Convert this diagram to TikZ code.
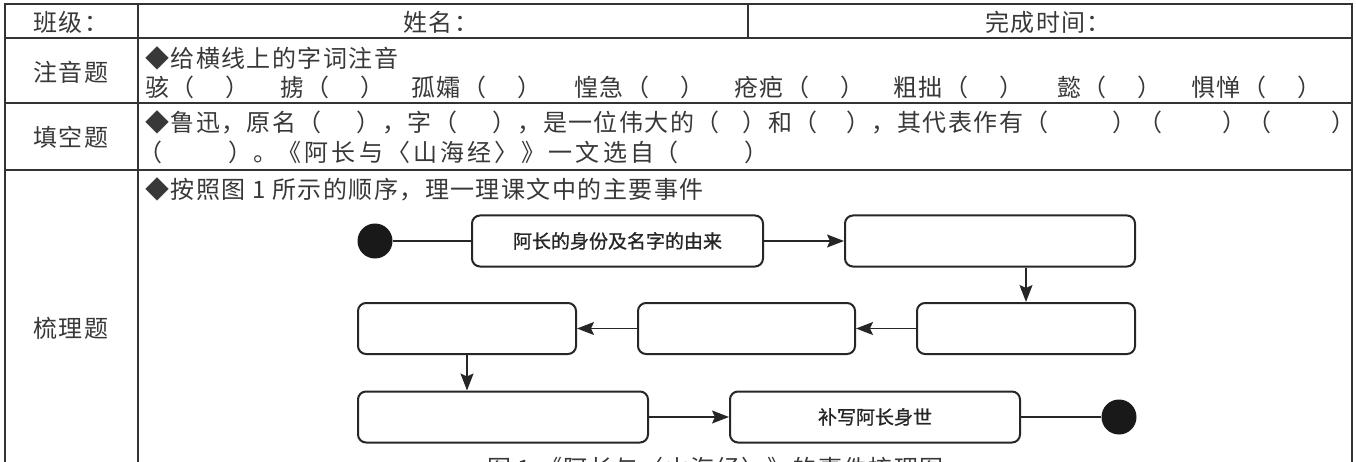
\documentclass[tikz,border=0pt]{standalone}
\usepackage{fontspec}
\usepackage{tikz}
\usetikzlibrary{arrows.meta}
\newfontfamily\cjkt[LetterSpace=6]{Noto Sans CJK SC}
\newfontfamily\cjkbox[FakeBold=1]{Noto Sans CJK SC}
\newcommand{\kuo}[1]{（\hspace{#1}）}

\begin{document}
\begin{tikzpicture}[x=1pt, y=-1pt,
  grid/.style={line width=2.2pt, draw=black!80},
  txt/.style={anchor=west, inner sep=0pt, text=black!78, font={\cjkt\fontsize{24}{28}\selectfont}},
  event/.style={draw=black!85, line width=2pt, rounded corners=8pt, minimum height=51pt, inner sep=0pt, text=black!85, font={\cjkbox\fontsize{19}{22}\selectfont}},
  dot/.style={circle, fill=black!90, minimum size=35pt, inner sep=0pt},
  flow/.style={-{Stealth[length=17pt, width=13pt, inset=3pt]}, line width=1.4pt, draw=black!85},
  link/.style={line width=1.4pt, draw=black!85}]
  \useasboundingbox (0,0) rectangle (1356,462);
  % table
  \draw[grid] (5,475) -- (5,4) -- (1352,4) -- (1352,475);
  \draw[grid] (138,4) -- (138,475);
  \draw[grid] (748,4) -- (748,38);
  \draw[grid] (5,38) -- (1352,38);
  \draw[grid] (5,103) -- (1352,103);
  \draw[grid] (5,170) -- (1352,170);
  \node (banji) [txt] at (33,22) {班级：};
  \node (xingming) [txt] at (403,22) {姓名：};
  \node (shijian) [txt] at (985,22) {完成时间：};
  \node (zhuyin) [txt] at (33,72) {注音题};
  \node (tiankong) [txt] at (33,137) {填空题};
  \node (shuli) [txt] at (33,328) {梳理题};
  % row texts
  \node (zy) [txt] at (145,58) {◆给横线上的字词注音};
  \foreach \x/\w in {145/骇, 280/掳, 411/孤孀, 574/惶急, 734/疮疤, 893/粗拙, 1057/懿, 1191/惧惮}
    \node (zy\x) [txt] at (\x,87) {\w\kuo{31pt}};
  \node (tk1) [txt] at (145,122) {◆鲁迅，原名\kuo{35pt}，字\kuo{35pt}，是一位伟大的\kuo{23pt}和\kuo{29pt}，其代表作有\kuo{64pt}\kuo{60pt}\kuo{60pt}};
  \node (tk2) [txt] at (138,152) {\kuo{66pt}。{\addfontfeature{LetterSpace=13}《阿长与〈山海经〉》一文选自}\kuo{66pt}};
  \node (sl) [txt] at (145,189) {◆按照图 1 所示的顺序，理一理课文中的主要事件};
  % flow chart
  \node (start) [dot] at (375,241) {};
  \node (e1) [event, minimum width=291pt] at (617.5,241) {阿长的身份及名字的由来};
  \node (e2) [event, minimum width=290pt] at (990,241) {};
  \node (e3) [event, minimum width=218pt] at (1026,328.5) {};
  \node (e4) [event, minimum width=217pt] at (746.5,328.5) {};
  \node (e5) [event, minimum width=218pt] at (467,328.5) {};
  \node (e6) [event, minimum width=290pt] at (503,417) {};
  \node (e7) [event, minimum width=290pt] at (875,417) {补写阿长身世};
  \node (stop) [dot] at (1119,417) {};
  \draw[link] (start) -- (e1);
  \draw[flow] (e1) -- (e2);
  \draw[flow] (e3.north |- e2.south) -- (e3.north);
  \draw[flow] (e3) -- (e4);
  \draw[flow] (e4) -- (e5);
  \draw[flow] (e5.south) -- (e5.south |- e6.north);
  \draw[flow] (e6) -- (e7);
  \draw[link] (e7) -- (stop);
  \node (caption) [txt] at (487,468) {图 1 《阿长与〈山海经〉》的事件梳理图};
\end{tikzpicture}
\end{document}
